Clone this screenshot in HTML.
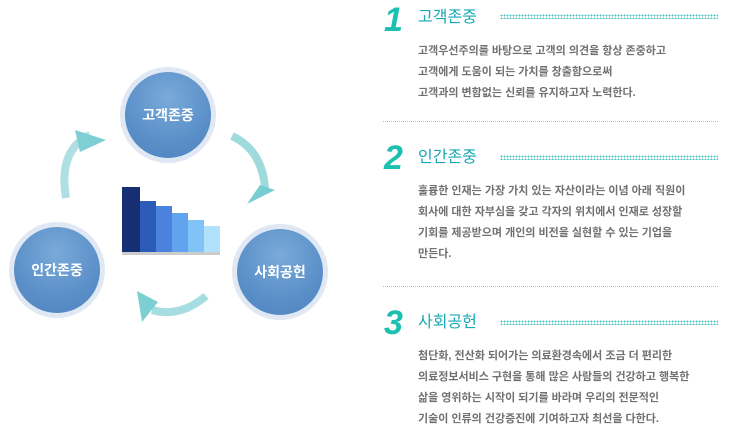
<!DOCTYPE html>
<html><head><meta charset="utf-8"><style>
html,body{margin:0;padding:0;background:#fff;width:730px;height:428px;overflow:hidden;position:relative;font-family:"Liberation Sans","Noto Sans CJK KR",sans-serif}
.num{position:absolute;left:384px;font-size:34px;font-weight:bold;font-style:italic;color:#1cc0b0;line-height:34px}
.title{position:absolute;left:418px;font-size:16px;color:#17a7b5;line-height:20px}
.dots{position:absolute;left:500px;width:218px;height:5px;background-image:radial-gradient(circle,#4cc4c4 0.8px,transparent 1px);background-size:3px 3px}
.body{position:absolute;left:418px;font-size:11px;font-weight:bold;color:#707070;line-height:21px;white-space:nowrap}
.sep{position:absolute;left:383px;width:335px;border-top:1px dotted #bbb}
.circ{position:absolute;width:96px;height:96px;border-radius:50%;background:#dfe8f3;}
.circ div{position:absolute;left:5px;top:5px;width:86px;height:86px;border-radius:50%;background:radial-gradient(circle at 50% 30%,#7aaad9,#5a8fc8 60%,#4f84bf);color:#fff;font-size:14px;font-weight:bold;text-align:center;line-height:86px}
</style></head><body>
<div class="circ" style="left:120px;top:67px"><div>고객존중</div></div>
<div class="circ" style="left:9px;top:222px"><div>인간존중</div></div>
<div class="circ" style="left:232px;top:224px"><div>사회공헌</div></div>
<svg width="340" height="428" style="position:absolute;left:0;top:0">
<path d="M66,198 Q58,150 90,135" stroke="#aee0e3" stroke-width="8" fill="none"/>
<polygon points="75,130 106,140 80,152" fill="#7dcfd4"/>
<path d="M232,136 Q262,150 265,188" stroke="#9fdadd" stroke-width="8" fill="none"/>
<polygon points="247,204 275,190 260,185" fill="#78cdd2"/>
<path d="M206,296 Q180,318 152,310" stroke="#a6dde0" stroke-width="8" fill="none"/>
<polygon points="137,291 158,302 142,322" fill="#7ccfd3"/>
<rect x="122" y="187" width="18" height="65" fill="#152f72"/>
<rect x="140" y="201" width="16" height="51" fill="#2d5cb8"/>
<rect x="156" y="206" width="16" height="46" fill="#4a82dd"/>
<rect x="172" y="213" width="16" height="39" fill="#62a3ef"/>
<rect x="188" y="220" width="16" height="32" fill="#82c3f7"/>
<rect x="204" y="226" width="16" height="26" fill="#b0e3fb"/>
<rect x="122" y="252" width="98" height="3" fill="#ccc"/>
</svg>

<div class="num" style="top:3px">1</div>
<div class="title" style="top:8px">고객존중</div>
<div class="dots" style="top:14px"></div>
<div class="body" style="top:41px">고객우선주의를 바탕으로 고객의 의견을 항상 존중하고<br>고객에게 도움이 되는 가치를 창출함으로써<br>고객과의 변함없는 신뢰를 유지하고자 노력한다.</div>
<div class="sep" style="top:121px"></div>

<div class="num" style="top:141px">2</div>
<div class="title" style="top:148px">인간존중</div>
<div class="dots" style="top:155px"></div>
<div class="body" style="top:181px">훌륭한 인재는 가장 가치 있는 자산이라는 이념 아래 직원이<br>회사에 대한 자부심을 갖고 각자의 위치에서 인재로 성장할<br>기회를 제공받으며 개인의 비전을 실현할 수 있는 기업을<br>만든다.</div>
<div class="sep" style="top:286px"></div>

<div class="num" style="top:306px">3</div>
<div class="title" style="top:313px">사회공헌</div>
<div class="dots" style="top:320px"></div>
<div class="body" style="top:346px">첨단화, 전산화 되어가는 의료환경속에서 조금 더 편리한<br>의료정보서비스 구현을 통해 많은 사람들의 건강하고 행복한<br>삶을 영위하는 시작이 되기를 바라며 우리의 전문적인<br>기술이 인류의 건강증진에 기여하고자 최선을 다한다.</div>
</body></html>
